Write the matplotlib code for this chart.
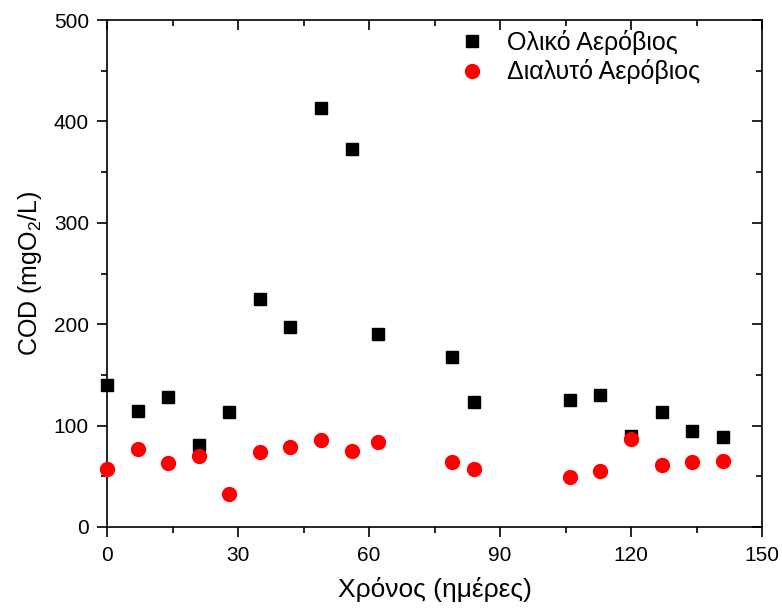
import matplotlib
matplotlib.use("Agg")
import matplotlib.pyplot as plt
from matplotlib.ticker import MultipleLocator

plt.rcParams['font.family'] = ['Liberation Sans', 'DejaVu Sans']
plt.rcParams['mathtext.fontset'] = 'custom'
plt.rcParams['mathtext.rm'] = 'Liberation Sans'

days = [0, 7, 14, 21, 28, 35, 42, 49, 56, 62, 79, 84, 106, 113, 120, 127, 134, 141]
total_cod = [140, 114, 128, 81, 113, 225, 197, 413, 373, 190, 168, 123, 125, 130, 90, 113, 95, 89]
soluble_cod = [57, 77, 63, 70, 33, 74, 79, 86, 75, 84, 64, 57, 49, 55, 87, 61, 64, 65]

W, H = 782, 610
fig = plt.figure(figsize=(W / 100, H / 100), dpi=100)
rect = [107 / W, (H - 527) / H, (762 - 107) / W, (527 - 20) / H]
ax = fig.add_axes(rect)

ax.plot(days, total_cod, linestyle='none', marker='s', color='black', markersize=9,
        label='Ολικό Αερόβιος', clip_on=False, zorder=3)
ax.plot(days, soluble_cod, linestyle='none', marker='o', color='red', markersize=10,
        label='Διαλυτό Αερόβιος', clip_on=False, zorder=4)

ax.set_xlim(0, 150)
ax.set_ylim(0, 500)
ax.xaxis.set_major_locator(MultipleLocator(30))
ax.xaxis.set_minor_locator(MultipleLocator(15))
ax.yaxis.set_major_locator(MultipleLocator(100))
ax.yaxis.set_minor_locator(MultipleLocator(50))

ax.tick_params(which='both', direction='out', top=False, right=False, labelsize=15, width=1.2, pad=6)
ax.tick_params(which='major', length=7)
ax.tick_params(which='minor', length=4)
ax.tick_params(axis='x', pad=7)
for s in ax.spines.values():
    s.set_linewidth(1.2)

# overlay axes for inward ticks on top/right
ax2 = fig.add_axes(rect, sharex=ax, sharey=ax)
ax2.patch.set_visible(False)
for s in ax2.spines.values():
    s.set_visible(False)
ax2.tick_params(which='both', direction='in', bottom=False, left=False, top=True, right=True,
                labelbottom=False, labelleft=False, labeltop=False, labelright=False, width=1.2)
ax2.tick_params(which='major', length=7)
ax2.tick_params(which='minor', length=4)

ax.set_xlabel('Χρόνος (ημέρες)', fontsize=19, labelpad=8)
ax.set_ylabel('COD (mgO$_2$/L)', fontsize=18, labelpad=7)

ax.legend(loc='upper left', bbox_to_anchor=(452 / W, (H - 30) / H), bbox_transform=fig.transFigure,
          frameon=False, fontsize=18, handlelength=1.6, handletextpad=0.6, labelspacing=0.18,
          borderaxespad=0, borderpad=0)

fig.savefig('out.png', dpi=100)
